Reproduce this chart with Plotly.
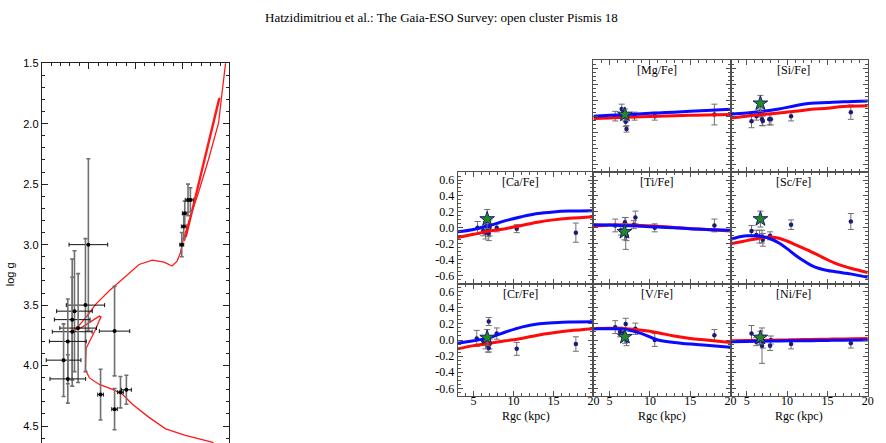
import plotly.graph_objects as go

# ---------------- Left panel: log g vs Teff (Pismis 18 stars) ----------------
star_teff = [6503, 6534, 6651, 6675, 6675, 6612, 6722, 6767, 6722, 6224, 6373, 6224, 6161, 6098,
             5508, 5487, 5476, 5441, 5416]
star_logg = [3.00, 3.50, 3.55, 3.62, 3.72, 3.69, 3.80, 3.955, 4.11, 3.715, 4.24, 4.36, 4.22, 4.20,
             3.00, 2.85, 2.74, 2.63, 2.63]
star_teff_err = [206, 204, 190, 190, 212, 195, 196, 185, 190, 162, 30, 30, 30, 53,
                 21, 25, 25, 30, 30]
star_logg_err = [0.71, 0.55, 0.50, 0.50, 0.45, 0.45, 0.35, 0.30, 0.20, 0.37, 0.21, 0.17, 0.13, 0.12,
                 0.10, 0.10, 0.10, 0.13, 0.10]

iso_teff = [5138, 5187, 5469, 5680, 5857, 6034, 6140, 6246, 6386, 6492, 6534, 6534, 6527, 6492,
            6421, 6386, 6368, 6386, 6457, 6563, 6675, 6616, 6527, 6421, 6280, 6104, 5963, 5822,
            5698, 5611, 5558, 5522, 5505, 5434, 5328, 5222, 5116, 5037,
            None, 5481, 5116, 5101, 5460]
iso_logg = [4.66, 4.632, 4.577, 4.523, 4.428, 4.319, 4.237, 4.197, 4.156, 4.102, 4.033, 3.939, 3.857, 3.803,
            3.694, 3.626, 3.599, 3.591, 3.626, 3.680, 3.715, 3.680, 3.599, 3.490, 3.381, 3.259, 3.164, 3.128,
            3.144, 3.177, 3.136, 3.069, 2.995, 2.810, 2.565, 2.294, 1.994, 1.47,
            None, 2.971, 1.796, 1.788, 2.938]
logg_ticks = [1.5, 2.0, 2.5, 3.0, 3.5, 4.0, 4.5]

# ---------------- Right panels: [X/Fe] vs Rgc ----------------
model_rgc = [3, 5, 7, 9, 11, 13, 15, 17, 20]
sc_model_rgc = [3, 4, 5, 6, 7, 8, 9, 10, 11, 12, 13, 14, 15, 16, 17, 18, 20]

mg_rgc = [5.7, 6.5, 6.7, 7.0, 7.0, 7.1, 8.1, 10.6, 18.0]
mg_val = [0.0, 0.09, 0.04, -0.02, -0.07, -0.16, 0.0, 0.0, 0.02]
mg_err = [0.06, 0.06, 0.05, 0.05, 0.06, 0.04, 0.05, 0.05, 0.13]
mg_star = [6.9, 0.02, 0.07]
mg_blue = [0.0, 0.01, 0.02, 0.03, 0.04, 0.05, 0.06, 0.07, 0.085]
mg_red = [-0.03, -0.022, -0.015, -0.008, 0.0, 0.005, 0.01, 0.015, 0.02]

si_rgc = [5.6, 6.2, 6.6, 6.9, 7.0, 7.8, 8.0, 10.5, 17.9]
si_val = [-0.065, 0.0, 0.04, -0.04, -0.06, -0.04, -0.04, 0.0, 0.05]
si_err = [0.08, 0.05, 0.05, 0.08, 0.06, 0.07, 0.07, 0.06, 0.09]
si_star = [6.7, 0.16, 0.10]
si_blue = [0.025, 0.04, 0.06, 0.09, 0.13, 0.16, 0.17, 0.18, 0.19]
si_red = [-0.025, 0.0, 0.02, 0.04, 0.06, 0.085, 0.10, 0.12, 0.13]

ca_rgc = [5.5, 6.2, 6.5, 6.6, 6.8, 6.9, 7.0, 7.9, 10.4, 17.8]
ca_val = [0.0, -0.04, -0.06, 0.02, -0.03, -0.07, 0.0, 0.0, -0.01, -0.06]
ca_err = [0.08, 0.06, 0.08, 0.06, 0.08, 0.09, 0.10, 0.05, 0.05, 0.12]
ca_star = [6.7, 0.11, 0.12]
ca_blue = [-0.05, -0.02, 0.03, 0.09, 0.14, 0.18, 0.20, 0.21, 0.215]
ca_red = [-0.12, -0.08, -0.04, -0.01, 0.03, 0.07, 0.10, 0.12, 0.14]

ti_rgc = [5.7, 6.4, 6.9, 7.0, 7.1, 8.0, 8.2, 10.6, 18.0]
ti_val = [0.03, -0.03, 0.07, -0.07, -0.10, 0.04, 0.13, 0.0, 0.03]
ti_err = [0.08, 0.06, 0.06, 0.20, 0.06, 0.05, 0.08, 0.05, 0.08]
ti_star = [6.85, -0.05, 0.10]
ti_blue = [0.04, 0.035, 0.03, 0.02, 0.01, 0.0, -0.01, -0.02, -0.03]
ti_red = [0.02, 0.035, 0.04, 0.03, 0.02, 0.005, -0.01, -0.02, -0.04]

sc_rgc = [5.6, 6.2, 6.6, 6.9, 7.0, 7.9, 10.5, 17.9]
sc_val = [-0.04, -0.09, -0.11, -0.11, -0.15, -0.10, 0.04, 0.08]
sc_err = [0.07, 0.06, 0.08, 0.08, 0.08, 0.05, 0.06, 0.10]
sc_star = [6.7, 0.11, 0.10]
sc_blue = [-0.145, -0.115, -0.10, -0.10, -0.11, -0.14, -0.19, -0.26, -0.34, -0.41, -0.47,
           -0.51, -0.535, -0.55, -0.565, -0.58, -0.62]
sc_red = [-0.20, -0.18, -0.16, -0.14, -0.12, -0.115, -0.13, -0.165, -0.21, -0.255, -0.30,
          -0.35, -0.40, -0.445, -0.48, -0.51, -0.56]

cr_rgc = [5.4, 6.2, 6.5, 6.8, 6.9, 6.9, 7.0, 7.9, 10.4, 17.8]
cr_val = [0.02, -0.01, -0.03, -0.07, 0.23, -0.10, -0.05, 0.08, -0.11, -0.05]
cr_err = [0.10, 0.06, 0.08, 0.08, 0.05, 0.05, 0.06, 0.07, 0.08, 0.09]
cr_star = [6.7, 0.03, 0.10]
cr_blue = [-0.04, -0.01, 0.03, 0.10, 0.16, 0.20, 0.215, 0.225, 0.228]
cr_red = [-0.11, -0.07, -0.04, -0.01, 0.02, 0.06, 0.09, 0.115, 0.14]

v_rgc = [5.7, 6.3, 6.8, 7.0, 7.1, 8.2, 10.6, 18.0]
v_val = [0.16, 0.10, 0.09, 0.20, -0.01, 0.14, 0.0, 0.06]
v_err = [0.08, 0.06, 0.06, 0.07, 0.06, 0.07, 0.08, 0.07]
v_star = [6.9, 0.04, 0.08]
v_blue = [0.14, 0.14, 0.13, 0.08, 0.0, -0.03, -0.05, -0.065, -0.09]
v_red = [0.14, 0.145, 0.14, 0.12, 0.09, 0.05, 0.02, 0.0, -0.03]

ni_rgc = [5.6, 6.2, 6.6, 6.9, 7.0, 7.9, 8.0, 10.5, 17.9]
ni_val = [0.08, -0.02, 0.0, -0.07, -0.02, -0.07, 0.0, -0.05, -0.04]
ni_err = [0.10, 0.05, 0.06, 0.22, 0.08, 0.06, 0.05, 0.06, 0.06]
ni_star = [6.7, 0.03, 0.08]
ni_blue = [-0.02, -0.018, -0.015, -0.012, -0.01, -0.008, -0.005, -0.003, 0.0]
ni_red = [-0.01, -0.007, -0.004, 0.0, 0.003, 0.007, 0.01, 0.014, 0.02]

abund_ticks = [-0.6, -0.4, -0.2, 0.0, 0.2, 0.4, 0.6]
rgc_ticks = [5, 10, 15, 20]

# ---------------- Layout helpers ----------------
W, H = 886, 443
SERIF = "Liberation Serif, Times New Roman, serif"
SANS = "Liberation Sans, Arial, sans-serif"
FRAME = "#505050"


def dx(a, b):
    return [a / W, b / W]


def dy(top, bottom):
    return [max(0.0, 1 - bottom / H), 1 - top / H]


def base_axis(**kw):
    d = dict(showline=True, linecolor=FRAME, linewidth=1, mirror="allticks",
             ticks="inside", ticklen=5, tickcolor=FRAME, tickwidth=1,
             showgrid=False, zeroline=False)
    d.update(kw)
    return d


fig = go.Figure()
layout = {}

# Left panel axes (bottom axis lies below the visible page, so only the top one is drawn)
layout["xaxis"] = base_axis(domain=dx(42, 231), range=[7000, 5000], tickmode="linear",
                            tick0=5000, dtick=500, showticklabels=False, anchor="y",
                            side="top", mirror=False, ticklen=6,
                            minor=dict(ticks="inside", ticklen=3, tickcolor="#222", dtick=100,
                                       showgrid=False),
                            linecolor="#222", tickcolor="#222")
layout["yaxis"] = base_axis(domain=dy(58, H), range=[4.64, 1.5], tickmode="array",
                            tickvals=logg_ticks, ticktext=["%.1f" % v for v in logg_ticks],
                            tickfont=dict(family=SANS, size=11, color="black"), anchor="x",
                            ticklen=6,
                            minor=dict(ticks="inside", ticklen=3, tickcolor="#222",
                                       tickvals=[round(1.5 + 0.1 * i, 1) for i in range(32)],
                                       showgrid=False),
                            linecolor="#222", tickcolor="#222")

# isochrone
fig.add_trace(go.Scatter(x=iso_teff, y=iso_logg, mode="lines", xaxis="x", yaxis="y",
                         line=dict(color="#ff1a1a", width=1.3), showlegend=False,
                         connectgaps=False, hoverinfo="skip"))
# stars, with gray vertical and black horizontal error bars
fig.add_trace(go.Scatter(x=star_teff, y=star_logg, mode="markers", xaxis="x", yaxis="y",
                         marker=dict(color="black", size=4),
                         error_y=dict(type="data", array=star_logg_err, color="#707070",
                                      thickness=1.6, width=2),
                         error_x=dict(type="data", array=star_teff_err, color="#111111",
                                      thickness=1, width=2),
                         showlegend=False))

# Right panels
cols = [(460.7, 597.5), (597.5, 735.5), (735.5, 873.7)]
rows = [(55, 168.3), (168.3, 281.5), (281.5, 395.7)]

panels = [
    ("[Mg/Fe]", 0, 1, mg_rgc, mg_val, mg_err, mg_star, model_rgc, mg_blue, mg_red),
    ("[Si/Fe]", 0, 2, si_rgc, si_val, si_err, si_star, model_rgc, si_blue, si_red),
    ("[Ca/Fe]", 1, 0, ca_rgc, ca_val, ca_err, ca_star, model_rgc, ca_blue, ca_red),
    ("[Ti/Fe]", 1, 1, ti_rgc, ti_val, ti_err, ti_star, model_rgc, ti_blue, ti_red),
    ("[Sc/Fe]", 1, 2, sc_rgc, sc_val, sc_err, sc_star, sc_model_rgc, sc_blue, sc_red),
    ("[Cr/Fe]", 2, 0, cr_rgc, cr_val, cr_err, cr_star, model_rgc, cr_blue, cr_red),
    ("[V/Fe]", 2, 1, v_rgc, v_val, v_err, v_star, model_rgc, v_blue, v_red),
    ("[Ni/Fe]", 2, 2, ni_rgc, ni_val, ni_err, ni_star, model_rgc, ni_blue, ni_red),
]

annotations = []
NAVY = "#1c1c78"

for i, (label, r, c, rgc, val, err, star, mrgc, blue, red) in enumerate(panels):
    n = i + 2
    xa, ya = "x%d" % n, "y%d" % n
    x0, x1 = cols[c]
    y0, y1 = rows[r]
    layout["xaxis%d" % n] = base_axis(
        domain=dx(x0, x1), range=[3, 20], anchor=ya, tickmode="array", tickvals=rgc_ticks,
        ticktext=[str(v) for v in rgc_ticks], showticklabels=(r == 2),
        ticklabelstandoff=-7,
        tickfont=dict(family=SERIF, size=12, color="black"),
        minor=dict(ticks="inside", ticklen=3, tickcolor=FRAME,
                   tickvals=list(range(3, 21)), showgrid=False))
    layout["yaxis%d" % n] = base_axis(
        domain=dy(y0, y1), range=[-0.7, 0.7], anchor=xa, tickmode="array",
        tickvals=abund_ticks, ticktext=["%.1f" % v for v in abund_ticks],
        showticklabels=(c == 0),
        tickfont=dict(family=SERIF, size=12, color="black"),
        minor=dict(ticks="inside", ticklen=3, tickcolor=FRAME,
                   tickvals=[round(-0.7 + 0.05 * k, 2) for k in range(29)], showgrid=False))

    fig.add_trace(go.Scatter(x=rgc, y=val, mode="markers", xaxis=xa, yaxis=ya,
                             marker=dict(color=NAVY, size=4.5),
                             error_y=dict(type="data", array=err, color="#707070",
                                          thickness=1, width=3),
                             showlegend=False))
    fig.add_trace(go.Scatter(x=mrgc, y=red, mode="lines", xaxis=xa, yaxis=ya,
                             line=dict(color="#ff0a0a", width=3, shape="spline"),
                             showlegend=False))
    fig.add_trace(go.Scatter(x=mrgc, y=blue, mode="lines", xaxis=xa, yaxis=ya,
                             line=dict(color="#0a0aff", width=3, shape="spline"),
                             showlegend=False))
    fig.add_trace(go.Scatter(x=[star[0]], y=[star[1]], mode="markers", xaxis=xa, yaxis=ya,
                             marker=dict(symbol="star", size=11, color="#1e8c1e",
                                         line=dict(color=NAVY, width=1)),
                             error_y=dict(type="data", array=[star[2]], color="#707070",
                                          thickness=1, width=3),
                             showlegend=False))

    annotations.append(dict(text=label, x=(x0 + 0.46 * (x1 - x0)) / W, y=1 - (y0 + 10) / H,
                            xref="paper", yref="paper", showarrow=False,
                            xanchor="center", yanchor="middle",
                            font=dict(family=SERIF, size=12, color="black")))
    if r == 2:
        annotations.append(dict(text="Rgc (kpc)", x=((x0 + x1) / 2) / W, y=1 - 416 / H,
                                xref="paper", yref="paper", showarrow=False,
                                xanchor="center", yanchor="middle",
                                font=dict(family=SERIF, size=12, color="black")))

annotations.append(dict(text="Hatzidimitriou et al.: The Gaia-ESO Survey: open cluster Pismis 18",
                        x=445 / W, y=1 - 12 / H, xref="paper", yref="paper", showarrow=False,
                        xanchor="center", yanchor="middle",
                        font=dict(family=SERIF, size=13, color="black")))
annotations.append(dict(text="log g", x=10 / W, y=1 - 272 / H, xref="paper", yref="paper",
                        showarrow=False, textangle=-90, xanchor="center", yanchor="middle",
                        font=dict(family=SANS, size=11, color="black")))

layout.update(dict(width=W, height=H, margin=dict(l=0, r=0, t=0, b=0),
                   paper_bgcolor="white", plot_bgcolor="white",
                   annotations=annotations, showlegend=False))
fig.update_layout(**layout)

fig.write_html("out.html")
